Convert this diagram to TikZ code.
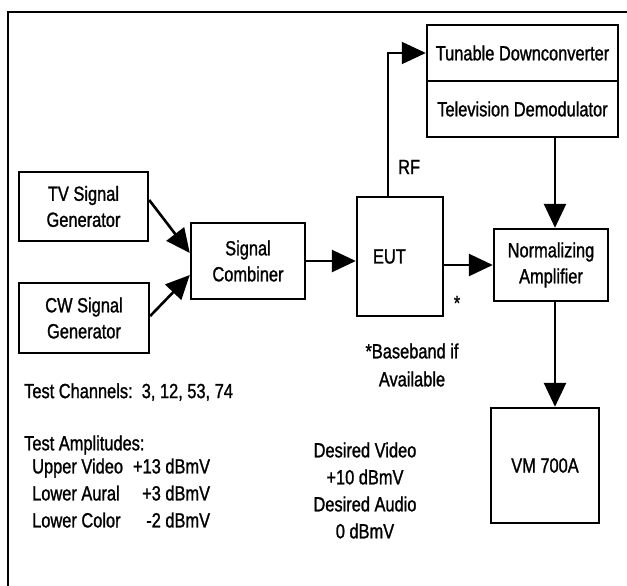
\documentclass[tikz,border=0pt]{standalone}
\usepackage{fontspec}
\setmainfont{Liberation Sans}[FakeStretch=0.8, FakeBold=1.2]
\usepackage{tikz}
\usetikzlibrary{arrows.meta}
\tikzstyle{unit} = [rectangle, draw=black, line width=2.4pt, text centered, align=center, inner sep=0pt]
\tikzstyle{arrow} = [line width=2.6pt, -{Triangle[length=24pt,width=22pt]}]
\tikzstyle{note} = [inner sep=0pt, align=left]

\begin{document}
\begin{tikzpicture}[x=1pt, y=-1pt, node distance=56pt, every node/.style={font=\fontsize{20.5}{26}\selectfont}]
\useasboundingbox (0,0) rectangle (627,586);
% outer frame, cut off at right and bottom
\draw [line width=2.4pt] (8,586) -- (8,12) -- (627,12);

	\node (tuner) [unit, minimum width=191pt, minimum height=56pt] at (522.5,53) {Tunable Downconverter};
		\node (demod) [unit, minimum width=191pt, minimum height=56pt, below of=tuner] {Television Demodulator};
	\node (tvgen) [unit, minimum width=129pt, minimum height=69pt] at (83.5,206.5) {TV Signal\\Generator};
	\node (cwgen) [unit, minimum width=130pt, minimum height=70pt] at (84,318) {CW Signal\\Generator};
	\node (combiner) [unit, minimum width=114pt, minimum height=76pt] at (248,261) {Signal\\Combiner};
	\node (eut) [unit, text width=54pt, align=left, inner xsep=16pt, minimum height=119pt] at (400,256.5) {EUT};
	\node (norm) [unit, minimum width=114pt, minimum height=72pt] at (551,265) {Normalizing\\Amplifier};
	\node (vm) [unit, minimum width=108pt, minimum height=115pt] at (545,465.5) {VM 700A};

	\node (rf) [note, anchor=west] at (398,167) {RF};
	\node (star) [note] at (457,303) {*};
	\node (baseband) [note, align=center, font=\fontsize{20.5}{28}\selectfont] at (412,365) {*Baseband if\\Available};
	\node (channels) [note, anchor=west] at (24,392) {Test Channels:\ \ 3, 12, 53, 74};
	\node (amptitle) [note, anchor=west] at (24,445) {Test Amplitudes:};
	\node (amptable) [note, anchor=west, font=\fontsize{20.5}{27}\selectfont] at (32,495) {\begin{tabular}{@{}l@{\hspace{10pt}}r@{}}Upper Video & +13 dBmV\\ Lower Aural & +3 dBmV\\ Lower Color & -2 dBmV\end{tabular}};
	\node (desired) [note, align=center, font=\fontsize{20.5}{27}\selectfont] at (365,490.5) {Desired Video\\+10 dBmV\\Desired Audio\\0 dBmV};

	\draw [arrow] ([yshift=6.5pt]tvgen.east) -- ([yshift=8pt]combiner.west);
	\draw [arrow] ([yshift=2pt]cwgen.east) -- ([yshift=-14pt]combiner.west);
	\draw [arrow] (combiner.east) -- (combiner.east -| eut.west);
	\draw [arrow] (eut.east |- norm.west) -- (norm.west);
	\draw [arrow, line width=2pt] ([xshift=-12pt]eut.north) |- (tuner.west);
	\draw [arrow] ([xshift=4pt]norm.north |- demod.south) -- ([xshift=4pt]norm.north);
	\draw [arrow] ([xshift=4pt]norm.south) -- ([xshift=4pt]norm.south |- vm.north);

\end{tikzpicture}
\end{document}
